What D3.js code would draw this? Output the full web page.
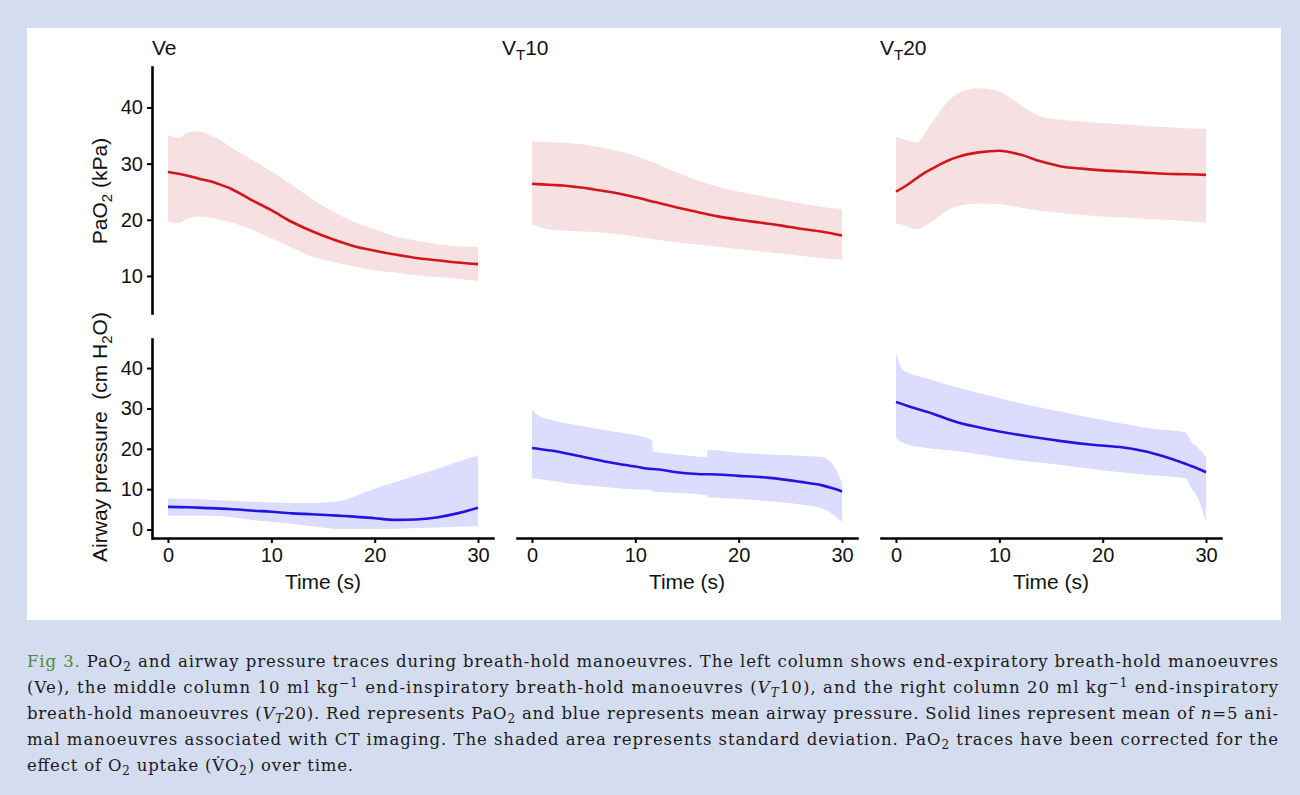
<!DOCTYPE html>
<html>
<head>
<meta charset="utf-8">
<script src="https://cdn.jsdelivr.net/npm/d3@7"></script>
<style>
  html, body { margin: 0; padding: 0; background: #d4ddef; }
  svg { display: block; }
</style>
</head>
<body>
<svg id="chart" width="1300" height="795"></svg>
<script>
// ---------------- DATA ----------------
const columns = ["Ve", "VT10", "VT20"];
const xTicks = [0, 10, 20, 30];
const yTicksPaO2 = [10, 20, 30, 40];
const yTicksAirway = [0, 10, 20, 30, 40];

// PaO2 panels (kPa) — time grid (s)
const tPaO2 = [0, 1, 2, 3, 4, 5, 6, 8, 10, 12, 14, 16, 18, 20, 22, 24, 26, 28, 30];
const vePaO2Mean  = [28.5, 28.2, 27.8, 27.3, 26.9, 26.3, 25.6, 23.6, 21.7, 19.6, 17.9, 16.5, 15.3, 14.5, 13.8, 13.2, 12.8, 12.4, 12.1];
const vePaO2Upper = [35.1, 34.6, 35.6, 35.7, 35.1, 34.3, 33.0, 30.8, 28.6, 26.2, 23.6, 21.4, 19.6, 18.3, 17.0, 16.3, 15.7, 15.3, 15.2];
const vePaO2Lower = [19.7, 19.4, 20.3, 20.6, 20.4, 20.0, 19.6, 18.3, 16.7, 15.0, 13.4, 12.5, 11.7, 11.0, 10.6, 10.1, 9.8, 9.5, 9.1];

const vt10PaO2Mean  = [26.4, 26.3, 26.2, 26.1, 25.9, 25.7, 25.4, 24.8, 24.0, 23.1, 22.2, 21.4, 20.6, 20.0, 19.5, 19.0, 18.4, 17.9, 17.2];
const vt10PaO2Upper = [34.0, 33.9, 33.8, 33.7, 33.6, 33.4, 33.1, 32.4, 31.4, 30.0, 28.4, 27.0, 25.9, 25.0, 24.3, 23.6, 22.9, 22.3, 21.9];
const vt10PaO2Lower = [19.1, 18.6, 18.2, 18.1, 18.0, 17.9, 17.8, 17.5, 17.0, 16.5, 16.0, 15.6, 15.2, 14.8, 14.4, 14.0, 13.6, 13.2, 12.9];

const vt20PaO2Mean  = [25.0, 26.1, 27.4, 28.6, 29.6, 30.5, 31.2, 32.0, 32.3, 31.6, 30.4, 29.5, 29.1, 28.8, 28.6, 28.4, 28.2, 28.1, 28.0];
const vt20PaO2Upper = [34.8, 34.2, 33.7, 36.0, 38.6, 41.0, 42.5, 43.4, 42.8, 40.5, 38.4, 37.8, 37.5, 37.2, 37.0, 36.7, 36.5, 36.3, 36.2];
const vt20PaO2Lower = [19.4, 18.9, 18.3, 19.1, 20.4, 21.7, 22.4, 22.9, 22.8, 22.2, 21.6, 21.2, 20.9, 20.6, 20.4, 20.2, 20.0, 19.8, 19.5];

// Airway pressure panels (cm H2O)
const tVeAir = [0, 2, 4, 6, 8, 10, 12, 14, 16, 17, 18, 20, 22, 24, 26, 28, 30];
const veAirMean  = [5.6, 5.5, 5.3, 5.1, 4.7, 4.4, 4.0, 3.8, 3.5, 3.35, 3.2, 2.8, 2.4, 2.5, 3.0, 4.0, 5.4];
const veAirUpper = [7.7, 7.6, 7.4, 7.1, 6.9, 6.7, 6.6, 6.6, 6.8, 7.3, 8.2, 10.1, 11.8, 13.4, 15.0, 16.8, 18.4];
const veAirLower = [3.4, 3.4, 3.4, 3.1, 2.4, 1.9, 1.4, 0.8, 0.2, 0.1, 0.1, 0.1, 0.2, 0.4, 0.5, 0.7, 0.9];

const tVt10Air = [0, 0.6, 2, 4, 6, 8, 10, 11.6, 11.7, 14, 16.9, 17, 20, 23, 26, 28, 29, 29.5, 30];
const vt10AirMean  = [20.2, 20.0, 19.5, 18.5, 17.4, 16.4, 15.6, 15.0, 15.0, 14.2, 13.7, 13.7, 13.3, 12.8, 11.8, 11.0, 10.3, 9.9, 9.4];
const vt10AirUpper = [29.6, 28.3, 27.0, 26.0, 25.1, 24.2, 23.4, 22.2, 19.3, 18.6, 18.0, 19.7, 19.0, 18.6, 18.3, 18.0, 16.5, 14.5, 11.5];
const vt10AirLower = [12.7, 12.5, 12.0, 11.3, 10.8, 10.3, 9.9, 9.8, 9.4, 9.1, 8.5, 8.0, 7.6, 7.0, 6.2, 5.3, 4.0, 3.0, 1.9];

const tVt20Air = [0, 0.7, 1.5, 3, 6, 9, 12, 16, 19, 22, 25, 28, 28.5, 29.3, 30];
const vt20AirMean  = [31.6, 31.0, 30.3, 29.2, 26.5, 24.8, 23.4, 21.9, 21.0, 20.3, 18.8, 16.3, 15.8, 15.0, 14.2];
const vt20AirUpper = [43.6, 39.5, 38.5, 37.4, 35.1, 33.2, 31.3, 29.2, 27.6, 26.2, 24.9, 24.1, 22.0, 20.1, 18.0];
const vt20AirLower = [22.6, 21.5, 20.8, 20.2, 19.4, 18.2, 17.1, 16.0, 15.0, 14.1, 13.4, 12.7, 10.6, 7.3, 1.9];

// ---------------- BUILD ----------------
function zipSeries(t, m, hi, lo) {
  return t.map((tt, i) => ({ t: tt, m: m[i], hi: hi[i], lo: lo[i] }));
}
const topSeries = [
  zipSeries(tPaO2, vePaO2Mean, vePaO2Upper, vePaO2Lower),
  zipSeries(tPaO2, vt10PaO2Mean, vt10PaO2Upper, vt10PaO2Lower),
  zipSeries(tPaO2, vt20PaO2Mean, vt20PaO2Upper, vt20PaO2Lower)
];
const botSeries = [
  zipSeries(tVeAir, veAirMean, veAirUpper, veAirLower),
  zipSeries(tVt10Air, vt10AirMean, vt10AirUpper, vt10AirLower),
  zipSeries(tVt20Air, vt20AirMean, vt20AirUpper, vt20AirLower)
];

const svg = d3.select("#chart");
const FONT = "'Liberation Sans', Arial, Helvetica, sans-serif";
const SERIF = "'DejaVu Serif', 'Liberation Serif', serif";

svg.append("rect").attr("x", 0).attr("y", 0).attr("width", 1300).attr("height", 795).attr("fill", "#d4ddef");
svg.append("rect").attr("x", 27).attr("y", 28).attr("width", 1254).attr("height", 592).attr("fill", "#ffffff");

const colStep = 364;
const yTop = d3.scaleLinear().domain([3.4, 47.2]).range([313, 67]);
const yBot = d3.scaleLinear().domain([-2.1, 47.2]).range([538, 339]);

const red = "#d3161c", pink = "#f6e0e2";
const blue = "#2414e2", lav = "#dcdcff";

columns.forEach((name, c) => {
  const x = d3.scaleLinear().domain([-1.45, 31.45]).range([153 + c * colStep, 493 + c * colStep]);

  // top PaO2
  const areaT = d3.area().x(d => x(d.t)).y0(d => yTop(d.lo)).y1(d => yTop(d.hi)).curve(d3.curveMonotoneX);
  const lineT = d3.line().x(d => x(d.t)).y(d => yTop(d.m)).curve(d3.curveMonotoneX);
  svg.append("path").datum(topSeries[c]).attr("d", areaT).attr("fill", pink);
  svg.append("path").datum(topSeries[c]).attr("d", lineT).attr("fill", "none").attr("stroke", red).attr("stroke-width", 2.6);

  // bottom airway
  const areaB = d3.area().x(d => x(d.t)).y0(d => yBot(d.lo)).y1(d => yBot(d.hi)).curve(d3.curveMonotoneX);
  const lineB = d3.line().x(d => x(d.t)).y(d => yBot(d.m)).curve(d3.curveMonotoneX);
  svg.append("path").datum(botSeries[c]).attr("d", areaB).attr("fill", lav);
  svg.append("path").datum(botSeries[c]).attr("d", lineB).attr("fill", "none").attr("stroke", blue).attr("stroke-width", 2.6);

  // x axis
  const gx = svg.append("g").attr("transform", "translate(0,538)")
    .call(d3.axisBottom(x).tickValues(xTicks).tickSize(5).tickPadding(5).tickSizeOuter(0));
  styleAxis(gx);
  gx.append("text").attr("x", x(15)).attr("y", 51).attr("text-anchor", "middle")
    .attr("fill", "#111").style("font-family", FONT).style("font-size", "21px").text("Time (s)");

  // panel title
  const title = svg.append("text").attr("x", 152 + c * 364 - (c > 0 ? 14 + (c === 2 ? -14 : 0) : 0))
    .attr("y", 55).attr("fill", "#111").style("font-family", FONT).style("font-size", "21px");
  if (name === "Ve") {
    title.text("Ve");
  } else {
    title.append("tspan").text("V");
    title.append("tspan").attr("baseline-shift", "-5").style("font-size", "15px").text("T");
    title.append("tspan").text(name.slice(2));
  }
});

// y axes (left column only)
const gyT = svg.append("g").attr("transform", "translate(152,0)")
  .call(d3.axisLeft(yTop).tickValues(yTicksPaO2).tickSize(5).tickPadding(4).tickSizeOuter(0));
styleAxis(gyT);
const gyB = svg.append("g").attr("transform", "translate(152,0)")
  .call(d3.axisLeft(yBot).tickValues(yTicksAirway).tickSize(5).tickPadding(4).tickSizeOuter(0));
styleAxis(gyB);

function styleAxis(g) {
  g.select(".domain").attr("stroke", "#000").attr("stroke-width", 2.6).attr("stroke-linecap", "square");
  g.selectAll(".tick line").attr("stroke", "#000").attr("stroke-width", 2);
  g.selectAll(".tick text").attr("fill", "#111").style("font-family", FONT).style("font-size", "20px");
}

// y axis titles
const yl1 = svg.append("text").attr("transform", "translate(107,191) rotate(-90)")
  .attr("text-anchor", "middle").attr("fill", "#111").style("font-family", FONT).style("font-size", "21px");
yl1.append("tspan").text("PaO");
yl1.append("tspan").attr("baseline-shift", "-5").style("font-size", "15px").text("2");
yl1.append("tspan").text(" (kPa)");

const yl2 = svg.append("text").attr("transform", "translate(107,437) rotate(-90)")
  .attr("text-anchor", "middle").attr("fill", "#111").style("font-family", FONT).style("font-size", "21px")
  .attr("xml:space", "preserve").style("white-space", "pre");
yl2.append("tspan").text("Airway pressure  (cm H");
yl2.append("tspan").attr("baseline-shift", "-5").style("font-size", "15px").text("2");
yl2.append("tspan").text("O)");

// ---------------- CAPTION ----------------
const captionLines = [
  [["Fig 3.", "g"], [" PaO"], ["2", "sub"], [" and airway pressure traces during breath-hold manoeuvres. The left column shows end-expiratory breath-hold manoeuvres"]],
  [["(Ve), the middle column 10 ml kg"], ["\u22121", "sup"], [" end-inspiratory breath-hold manoeuvres ("], ["V", "i"], ["T", "isub"], ["10), and the right column 20 ml kg"], ["\u22121", "sup"], [" end-inspiratory"]],
  [["breath-hold manoeuvres ("], ["V", "i"], ["T", "isub"], ["20). Red represents PaO"], ["2", "sub"], [" and blue represents mean airway pressure. Solid lines represent mean of "], ["n", "i"], ["=5 ani-"]],
  [["mal manoeuvres associated with CT imaging. The shaded area represents standard deviation. PaO"], ["2", "sub"], [" traces have been corrected for the"]],
  [["effect of O"], ["2", "sub"], [" uptake (V\u0307O"], ["2", "sub"], [") over time."]]
];
const capY = [667, 693, 719, 745, 771];
const capLen = [1251, 1251, 1251, 1251, 326];
captionLines.forEach((segs, i) => {
  const t = svg.append("text").attr("x", 27).attr("y", capY[i]).attr("fill", "#1a1a1a")
    .style("font-family", SERIF).style("font-size", "16.5px")
    .attr("textLength", capLen[i]).attr("lengthAdjust", "spacing");
  segs.forEach(([txt, st]) => {
    const s = t.append("tspan").text(txt);
    if (st === "g") s.attr("fill", "#4f8a3c");
    if (st === "sub") s.attr("baseline-shift", "-4").style("font-size", "12px");
    if (st === "sup") s.attr("baseline-shift", "6").style("font-size", "12px");
    if (st === "i") s.style("font-style", "italic");
    if (st === "isub") s.attr("baseline-shift", "-4").style("font-size", "12px").style("font-style", "italic");
  });
});
</script>
</body>
</html>
